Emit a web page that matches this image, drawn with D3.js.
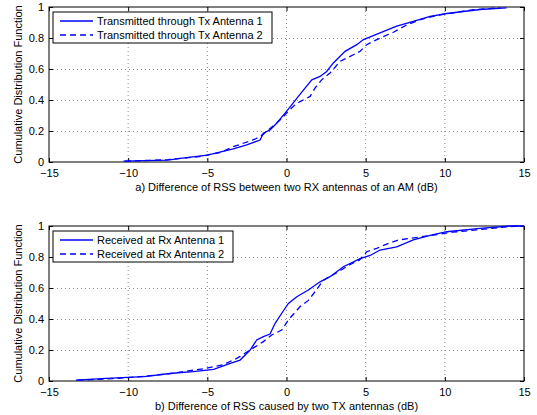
<!DOCTYPE html>
<html>
<head>
<meta charset="utf-8">
<script src="https://cdn.jsdelivr.net/npm/d3@7"></script>
<style>
  body { margin: 0; background: #fff; }
  svg { display: block; font-family: "Liberation Sans", Arial, Helvetica, sans-serif; }
</style>
</head>
<body>
<div class="container"></div>
<script>
// x tick labels / y tick labels
const xTicks = [-15, -10, -5, 0, 5, 10, 15];
const yTicks = [0, 0.2, 0.4, 0.6, 0.8, 1];

// panel a) transmitted through Tx antenna 1 / 2 (read off the picture)
const aX1 = [-10.3, -7.5, -6.7, -5.0, -3.36, -2.51, -1.67, -1.46, -1.04, -0.62, -0.09, 0.33, 0.75, 1.17, 1.60, 2.12, 2.54, 2.96, 3.70, 4.44, 4.86, 5.91, 6.96, 8.01, 9.07, 10.12, 12.23, 13.9];
const aY1 = [0.005, 0.012, 0.024, 0.045, 0.085, 0.11, 0.142, 0.186, 0.207, 0.25, 0.315, 0.369, 0.423, 0.477, 0.53, 0.552, 0.584, 0.639, 0.714, 0.757, 0.79, 0.833, 0.876, 0.908, 0.94, 0.958, 0.984, 0.995];
const aX2 = [-10.2, -7.5, -5.5, -4.2, -3.36, -2.73, -1.99, -1.46, -0.41, 0.0, 0.54, 0.86, 1.49, 1.80, 2.22, 2.75, 3.38, 4.22, 4.65, 5.07, 5.7, 6.75, 7.6, 8.5, 9.5, 10.75, 11.6, 13.5];
const aY2 = [0.005, 0.015, 0.035, 0.06, 0.099, 0.121, 0.147, 0.18, 0.27, 0.315, 0.369, 0.39, 0.423, 0.477, 0.53, 0.574, 0.649, 0.692, 0.714, 0.757, 0.79, 0.837, 0.885, 0.92, 0.945, 0.966, 0.98, 0.995];

// panel b) received at Rx antenna 1 / 2
const bX1 = [-13.3, -11.4, -9.0, -7.2, -5.9, -4.6, -3.55, -2.93, -2.3, -1.88, -1.46, -1.04, -0.72, -0.3, 0.12, 0.65, 1.38, 2.12, 2.75, 3.59, 4.65, 5.28, 5.91, 6.96, 8.01, 9.07, 10.12, 12.23, 14.1, 15];
const bY1 = [0.005, 0.017, 0.028, 0.05, 0.06, 0.075, 0.114, 0.135, 0.2, 0.265, 0.286, 0.303, 0.372, 0.437, 0.50, 0.544, 0.587, 0.64, 0.673, 0.737, 0.79, 0.81, 0.845, 0.866, 0.91, 0.94, 0.963, 0.985, 1.0, 1.0];
const bX2 = [-13.2, -11.0, -9.0, -7.2, -5.2, -4.0, -3.14, -1.99, -1.46, -0.93, -0.3, 0.12, 0.86, 1.38, 1.8, 2.33, 3.2, 4.0, 4.6, 5.07, 5.7, 6.44, 7.07, 7.8, 8.5, 9.5, 10.5, 12.0, 13.5, 14.6];
const bY2 = [0.005, 0.015, 0.03, 0.05, 0.08, 0.105, 0.146, 0.22, 0.254, 0.297, 0.329, 0.394, 0.48, 0.52, 0.576, 0.65, 0.70, 0.75, 0.78, 0.834, 0.856, 0.888, 0.91, 0.92, 0.93, 0.945, 0.96, 0.975, 0.99, 1.0];

const panels = [
  {top: 7, bottom: 162, title: "a) Difference of RSS between two RX antennas of an AM (dB)",
   series: [{x: aX1, y: aY1, dash: null, name: "Transmitted through Tx Antenna 1"},
            {x: aX2, y: aY2, dash: "6,4", name: "Transmitted through Tx Antenna 2"}],
   legendW: 219},
  {top: 226, bottom: 381, title: "b) Difference of RSS caused by two TX antennas (dB)",
   series: [{x: bX1, y: bY1, dash: null, name: "Received at Rx Antenna 1"},
            {x: bX2, y: bY2, dash: "6,4", name: "Received at Rx Antenna 2"}],
   legendW: 180}
];

const W = 537, H = 415;
const left = 49, right = 524;
const blue = "#0000ff";

const svg = d3.select(".container").append("svg")
    .attr("width", W)
    .attr("height", H);

const x = d3.scaleLinear().domain([-15, 15]).range([left, right]);

panels.forEach(p => {
  const y = d3.scaleLinear().domain([0, 1]).range([p.bottom, p.top]);
  const g = svg.append("g");

  // dotted grid
  g.selectAll(".gx").data(xTicks.slice(1, -1)).enter().append("line")
    .attr("x1", d => x(d)).attr("x2", d => x(d))
    .attr("y1", p.top).attr("y2", p.bottom)
    .attr("stroke", "#8c8c8c").attr("stroke-width", 1)
    .attr("stroke-dasharray", "1,3");
  g.selectAll(".gy").data(yTicks.slice(1, -1)).enter().append("line")
    .attr("y1", d => y(d) + 0.5).attr("y2", d => y(d) + 0.5)
    .attr("x1", left).attr("x2", right)
    .attr("stroke", "#8c8c8c").attr("stroke-width", 1)
    .attr("stroke-dasharray", "1,3");

  // axes, ticks pointing inward (matlab style)
  g.append("g")
    .attr("transform", `translate(0,${p.bottom})`)
    .call(d3.axisBottom(x).tickValues(xTicks).tickSize(-4).tickPadding(7));
  g.append("g")
    .attr("transform", `translate(${left},0)`)
    .call(d3.axisLeft(y).tickValues(yTicks).tickSize(-4).tickPadding(5).tickFormat(d3.format("~g")));
  g.append("g")
    .attr("transform", `translate(0,${p.top})`)
    .call(d3.axisTop(x).tickValues(xTicks).tickSize(-4).tickFormat(""));
  g.append("g")
    .attr("transform", `translate(${right},0)`)
    .call(d3.axisRight(y).tickValues(yTicks).tickSize(-4).tickFormat(""));
  g.selectAll(".domain").remove();
  g.selectAll(".tick line").attr("stroke", "#000");
  g.selectAll(".tick text").attr("fill", "#000").attr("font-size", 11)
    .attr("font-family", "Liberation Sans, Arial, sans-serif");

  g.append("rect")
    .attr("x", left).attr("y", p.top)
    .attr("width", right - left).attr("height", p.bottom - p.top)
    .attr("fill", "none").attr("stroke", "#000").attr("stroke-width", 1);

  // curves
  const line = d3.line().x(d => x(d[0])).y(d => y(d[1]));
  p.series.forEach(s => {
    g.append("path")
      .datum(d3.zip(s.x, s.y))
      .attr("d", line)
      .attr("fill", "none")
      .attr("stroke", blue)
      .attr("stroke-width", 1.3)
      .attr("stroke-dasharray", s.dash);
  });

  // x label
  g.append("text")
    .attr("x", (left + right) / 2)
    .attr("y", p.bottom + 29)
    .attr("text-anchor", "middle")
    .attr("font-size", 11)
    .text(p.title);

  // y label
  g.append("text")
    .attr("transform", `translate(22,${(p.top + p.bottom) / 2}) rotate(-90)`)
    .attr("text-anchor", "middle")
    .attr("font-size", 11)
    .text("Cumulative Distribution Function");

  // legend
  const lg = g.append("g").attr("transform", `translate(${left + 4},${p.top + 5})`);
  lg.append("rect")
    .attr("width", p.legendW).attr("height", 31)
    .attr("fill", "#fff").attr("stroke", "#000").attr("stroke-width", 1);
  p.series.forEach((s, i) => {
    const yy = 9 + i * 14;
    lg.append("line")
      .attr("x1", 7).attr("x2", 40).attr("y1", yy).attr("y2", yy)
      .attr("stroke", blue).attr("stroke-width", 1.3)
      .attr("stroke-dasharray", s.dash);
    lg.append("text")
      .attr("x", 44).attr("y", yy + 4)
      .attr("font-size", 11)
      .text(s.name);
  });
});
</script>
</body>
</html>
